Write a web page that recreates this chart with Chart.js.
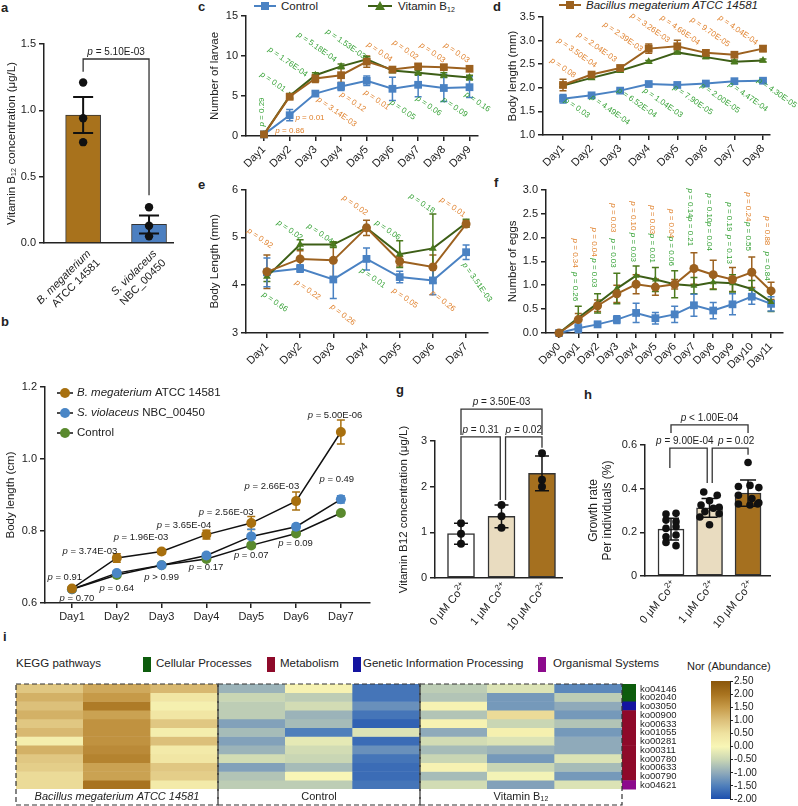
<!DOCTYPE html>
<html>
<head>
<meta charset="utf-8">
<title>Vitamin B12 figure</title>
<script src="https://cdn.jsdelivr.net/npm/chart.js@4.4.1/dist/chart.umd.min.js"></script>
<style>
  body { margin: 0; background: #fff; }
  #fig { position: relative; width: 798px; height: 806px; overflow: hidden; background: #fff;
         font-family: "Liberation Sans", Arial, sans-serif; color: #222; }
  #fig canvas { position: absolute; }
  .tag { position: absolute; font-weight: bold; font-size: 13px; line-height: 15px; }
  .txt { position: absolute; font-size: 11.5px; line-height: 13px; white-space: nowrap; }
  .txt sub { font-size: 7px; vertical-align: -2px; line-height: 0; }
  .key { position: absolute; }
  .box { position: absolute; width: 8px; height: 15px; }
</style>
</head>
<body>
<div id="fig">
  <div class="tag" style="left:1px;top:0px">a</div>
  <div class="tag" style="left:1px;top:314px">b</div>
  <div class="tag" style="left:198px;top:-1px">c</div>
  <div class="tag" style="left:493px;top:-1px">d</div>
  <div class="tag" style="left:198px;top:177px">e</div>
  <div class="tag" style="left:494px;top:175px">f</div>
  <div class="tag" style="left:396px;top:382px">g</div>
  <div class="tag" style="left:584px;top:387px">h</div>
  <div class="tag" style="left:3px;top:629px">i</div>

  <!-- legend shared by c-f -->
  <svg class="key" style="left:254px;top:0px" width="22" height="12"><line x1="0" y1="6" x2="22" y2="6" stroke="#4a82c3" stroke-width="2"/><rect x="7" y="2" width="8" height="8" fill="#4a82c3"/></svg>
  <div class="txt" style="left:281px;top:0px">Control</div>
  <svg class="key" style="left:368px;top:0px" width="24" height="12"><line x1="0" y1="6" x2="24" y2="6" stroke="#3d5e16" stroke-width="2"/><polygon points="12,1 17,10 7,10" fill="#4b7a1e"/></svg>
  <div class="txt" style="left:398px;top:0px">Vitamin B<sub>12</sub></div>
  <svg class="key" style="left:559px;top:-1px" width="22" height="12"><line x1="0" y1="6" x2="22" y2="6" stroke="#9c611f" stroke-width="2"/><rect x="7" y="2" width="8" height="8" fill="#9c611f"/></svg>
  <div class="txt" style="left:586px;top:-1px;font-style:italic">Bacillus megaterium ATCC 14581</div>

  <!-- KEGG legend row -->
  <div class="txt" style="left:16px;top:657px">KEGG pathways</div>
  <div class="box" style="left:143px;top:657px;background:#0d5c0d"></div>
  <div class="txt" style="left:156px;top:657px">Cellular Processes</div>
  <div class="box" style="left:267px;top:657px;background:#8e0a2a"></div>
  <div class="txt" style="left:280px;top:657px">Metabolism</div>
  <div class="box" style="left:353px;top:657px;background:#1414a0"></div>
  <div class="txt" style="left:363px;top:657px">Genetic Information Processing</div>
  <div class="box" style="left:538px;top:657px;background:#8c0a8c"></div>
  <div class="txt" style="left:553px;top:657px">Organismal Systems</div>
  <div class="txt" style="left:687px;top:660px;font-size:11px">Nor (Abundance)</div>

  <canvas id="ca" width="178" height="310" style="left:0;top:0"></canvas>
  <canvas id="cb" width="375" height="260" style="left:0;top:370px"></canvas>
  <canvas id="cc" width="290" height="178" style="left:208px;top:0"></canvas>
  <canvas id="cd" width="292" height="178" style="left:506px;top:0"></canvas>
  <canvas id="ce" width="290" height="198" style="left:208px;top:180px"></canvas>
  <canvas id="cf" width="292" height="198" style="left:506px;top:180px"></canvas>
  <canvas id="cg" width="170" height="245" style="left:397px;top:395px"></canvas>
  <canvas id="ch" width="212" height="245" style="left:586px;top:395px"></canvas>
  <canvas id="ci" width="680" height="130" style="left:10px;top:676px"></canvas>
  <canvas id="ccb" width="108" height="132" style="left:690px;top:674px"></canvas>
</div>
<script>
// ---------- data ----------
// a: vitamin B12 produced by the two strains
const aStrains = [['B. megaterium', 'ATCC 14581'], ['S. violaceus', 'NBC_00450']];
const aMean = [0.965, 0.14];
const aSem = [0.135, 0.068];
const aPts = [[1.21, 0.94, 0.76], [0.27, 0.13, 0.05]];

// b: body length (cm)
const bDays = [1, 2, 3, 4, 5, 6, 7];
const bBacillus = [0.640, 0.725, 0.743, 0.790, 0.822, 0.883, 1.075];
const bBacillusErr = [0.005, 0.012, 0.006, 0.012, 0.018, 0.025, 0.033];
const bViolaceus = [0.638, 0.683, 0.705, 0.732, 0.785, 0.812, 0.888];
const bViolaceusErr = [0.005, 0.006, 0.005, 0.006, 0.020, 0.006, 0.010];
const bControl = [0.638, 0.678, 0.705, 0.722, 0.760, 0.793, 0.850];
const bControlErr = [0.004, 0.005, 0.004, 0.005, 0.006, 0.005, 0.006];
const bNames = [['B. megaterium', ' ATCC 14581'], ['S. violaceus', ' NBC_00450'], ['', 'Control']];

// c: number of larvae
const cDays = [1, 2, 3, 4, 5, 6, 7, 8, 9];
const cControl = [0.2, 2.6, 5.3, 6.2, 6.9, 5.9, 6.4, 6.0, 6.1];
const cControlErr = [0.1, 0.7, 0.3, 0.5, 0.6, 1.45, 1.5, 1.7, 1.3];
const cVitB12 = [0.2, 5.0, 7.6, 8.7, 9.6, 8.2, 7.9, 7.6, 7.3];
const cVitB12Err = [0.1, 0.3, 0.3, 0.3, 0.3, 0.3, 0.3, 0.3, 0.3];
const cBacillus = [0.2, 4.9, 7.2, 7.6, 9.3, 8.3, 8.7, 8.6, 8.4];
const cBacillusErr = [0.1, 0.3, 0.5, 0.9, 0.7, 0.3, 0.3, 0.3, 0.3];

// d: body length (mm)
const dDays = [1, 2, 3, 4, 5, 6, 7, 8];
const dControl = [1.77, 1.84, 1.94, 2.08, 2.06, 2.09, 2.14, 2.15];
const dControlErr = [0.09, 0.03, 0.03, 0.04, 0.03, 0.03, 0.03, 0.03];
const dVitB12 = [2.05, 2.21, 2.36, 2.55, 2.75, 2.65, 2.55, 2.58];
const dVitB12Err = [0.03, 0.03, 0.03, 0.03, 0.03, 0.03, 0.04, 0.03];
const dBacillus = [2.06, 2.28, 2.42, 2.83, 2.88, 2.74, 2.70, 2.83];
const dBacillusErr = [0.12, 0.05, 0.04, 0.10, 0.13, 0.06, 0.05, 0.06];

// e: body length (mm)
const eDays = [1, 2, 3, 4, 5, 6, 7];
const eControl = [4.27, 4.35, 4.12, 4.55, 4.17, 4.10, 4.69];
const eControlErr = [0.30, 0.08, 0.40, 0.23, 0.12, 0.30, 0.15];
const eVitB12 = [4.18, 4.85, 4.85, 5.20, 4.65, 4.77, 5.30];
const eVitB12Err = [0.10, 0.10, 0.06, 0.05, 0.28, 0.72, 0.08];
const eBacillus = [4.28, 4.55, 4.52, 5.20, 4.50, 4.38, 5.28];
const eBacillusErr = [0.35, 0.17, 0.37, 0.16, 0.10, 0.25, 0.07];

// f: number of eggs
const fDays = [0, 1, 2, 3, 4, 5, 6, 7, 8, 9, 10, 11];
const fControl = [0, 0.10, 0.18, 0.28, 0.42, 0.31, 0.39, 0.58, 0.47, 0.60, 0.76, 0.61];
const fControlErr = [0, 0.09, 0.06, 0.08, 0.20, 0.12, 0.17, 0.23, 0.17, 0.22, 0.16, 0.15];
const fVitB12 = [0, 0.32, 0.62, 0.93, 1.20, 1.12, 1.02, 0.99, 1.06, 1.04, 0.92, 0.65];
const fVitB12Err = [0, 0.24, 0.20, 0.32, 0.20, 0.25, 0.28, 0.17, 0.15, 0.18, 0.18, 0.20];
const fBacillus = [0, 0.28, 0.57, 0.82, 1.02, 0.96, 1.02, 1.35, 1.22, 1.12, 1.27, 0.88];
const fBacillusErr = [0, 0.13, 0.12, 0.18, 0.20, 0.17, 0.10, 0.33, 0.30, 0.25, 0.32, 0.18];

// g: B12 vs cobalt
const gDoses = ['0 μM Co2+', '1 μM Co2+', '10 μM Co2+'];
const gMean = [0.97, 1.35, 2.29];
const gSd = [0.23, 0.25, 0.38];
const gPts = [[1.2, 0.97, 0.75], [1.6, 1.35, 1.1], [2.73, 2.15, 2.0]];

// h: growth rate vs cobalt
const hMean = [0.215, 0.312, 0.38];
const hSd = [0.05, 0.043, 0.06];
const hPts = [
  [0.284, 0.287, 0.256, 0.249, 0.218, 0.226, 0.180, 0.188, 0.154, 0.139],
  [0.385, 0.370, 0.345, 0.325, 0.315, 0.310, 0.295, 0.285, 0.270, 0.235],
  [0.520, 0.410, 0.415, 0.405, 0.370, 0.355, 0.335, 0.330, 0.325, 0.330]
];
const hJitter = [
  [-0.13, 0.13, -0.13, 0.13, -0.13, 0.13, -0.13, 0.13, -0.13, 0.13],
  [-0.15, 0.2, 0.0, -0.22, 0.25, 0.1, -0.12, 0.25, -0.25, 0.0],
  [0.0, -0.25, 0.05, 0.28, -0.25, 0.1, 0.28, -0.25, 0.05, 0.25]
];

// i: KEGG heatmap
const heatCols = ['BM1', 'BM2', 'BM3', 'C1', 'C2', 'C3', 'VB1', 'VB2', 'VB3'];
const heatGroups = ['Bacillus megaterium ATCC 14581', 'Control', 'Vitamin B₁₂'];
const heatRows = ['ko04146', 'ko02040', 'ko03050', 'ko00900', 'ko00633', 'ko01055',
                  'ko00281', 'ko00311', 'ko00780', 'ko00633', 'ko00790', 'ko04621'];
const heatRowCat = ['Cellular Processes', 'Cellular Processes', 'Genetic Information Processing',
  'Metabolism', 'Metabolism', 'Metabolism', 'Metabolism', 'Metabolism', 'Metabolism',
  'Metabolism', 'Metabolism', 'Organismal Systems'];
const heatVals = [
  [0.9, 1.3, 1.1, -0.9, 0.1, -1.6, -0.6, -0.3, -1.4],
  [1.2, 1.5, 0.4, -0.5, -0.6, -1.6, -0.7, -1.2, -0.6],
  [1.0, 1.9, 0.15, -0.6, -0.4, -1.3, 0.1, -1.2, -1.0],
  [1.2, 1.4, 0.4, -0.6, -0.9, -1.6, -0.7, 0.6, -1.2],
  [0.9, 1.6, 0.9, -1.1, -0.8, -1.8, 0.1, -0.5, -0.7],
  [1.1, 1.6, 0.2, -0.8, -1.5, -0.3, -1.0, 0.15, -1.2],
  [0.2, 1.6, 1.0, -1.1, -0.2, -1.7, -0.4, -0.3, -1.0],
  [1.2, 1.7, 0.3, -0.9, -0.4, -1.3, -0.8, -0.9, -1.0],
  [0.9, 1.8, 0.4, -0.4, -0.5, -1.6, -0.5, -1.2, -0.3],
  [0.8, 1.4, 0.9, -1.1, -0.8, -1.7, 0.1, -0.5, -0.8],
  [0.6, 1.4, 0.8, -0.7, 0.0, -1.7, -0.8, -0.05, -1.2],
  [0.6, 2.0, 0.3, -0.6, -0.6, -1.6, -0.4, -1.1, -0.3]
];
const cbRange = [-2, 2.5];

// ---------- styling ----------
const FF = '"Liberation Sans", Arial, sans-serif';
const INK = '#222';
const BLUE = '#4a82c3', GREEN = '#3d5e16', GREENPT = '#4b7a1e', BROWN = '#9c611f';
const PO = '#e0822e', PG = '#34a134';
const catColor = {
  'Cellular Processes': '#0d5c0d', 'Metabolism': '#8e0a2a',
  'Genetic Information Processing': '#1414a0', 'Organismal Systems': '#8c0a8c'
};
const cmapStops = [[-2, '#1d4fae'], [-1.5, '#4f7fbb'], [-1, '#8faaba'], [-0.5, '#c9d6b4'],
  [0, '#f8f6b6'], [0.5, '#efe2a0'], [1, '#dcc07a'], [1.5, '#c69a48'], [2, '#a8731f'], [2.5, '#8a560a']];

Chart.defaults.font.family = FF;
Chart.defaults.font.size = 11;
Chart.defaults.color = INK;
Chart.defaults.animation = false;
Chart.defaults.responsive = false;
Chart.defaults.plugins.legend.display = false;
Chart.defaults.plugins.tooltip.enabled = false;

// p-value annotations: [x, y, text, colour, rotation]
const cNotes = [
  [0.92, 3.0, 'p = 0.29', PG, -90], [1.35, 6.75, 'p = 0.01', PG, 35],
  [1.93, 9.25, 'p = 1.76E-04', PG, 35], [3.06, 11.1, 'p = 5.18E-04', PG, 35],
  [4.18, 11.5, 'p = 1.53E-03', PG, 35], [5.5, 10.5, 'p = 0.04', PO, 35],
  [6.51, 10.75, 'p = 0.02', PO, 35], [7.56, 10.4, 'p = 0.03', PO, 35],
  [8.5, 10.4, 'p = 0.03', PO, 35], [2.01, 0.6, 'p = 0.86', PO, 0],
  [2.79, 2.25, 'p = 0.01', PO, 0], [3.83, 3.0, 'p = 3.14E-03', PO, 35],
  [4.46, 4.25, 'p = 0.12', PO, 35], [5.39, 4.5, 'p = 0.01', PO, 35],
  [6.4, 3.25, 'p = 0.05', PG, 35], [7.41, 3.75, 'p = 0.06', PG, 35],
  [8.42, 3.6, 'p = 0.09', PG, 35], [9.31, 4.25, 'p = 0.16', PG, 35]
];
const dNotes = [
  [1.0, 2.42, 'p = 0.08', PO, 35], [1.49, 2.74, 'p = 3.50E-04', PO, 35],
  [2.19, 2.86, 'p = 2.04E-03', PO, 35], [3.1, 3.08, 'p = 2.39E-03', PO, 35],
  [4.05, 3.27, 'p = 3.26E-03', PO, 35], [5.1, 3.22, 'p = 4.66E-04', PO, 35],
  [6.15, 3.18, 'p = 9.70E-05', PO, 35], [7.13, 3.22, 'p = 4.04E-04', PO, 35],
  [1.49, 1.57, 'p = 0.03', PG, 35], [2.65, 1.53, 'p = 4.49E-04', PG, 35],
  [3.59, 1.68, 'p = 6.52E-04', PG, 35], [4.5, 1.68, 'p = 1.04E-03', PG, 35],
  [5.55, 1.74, 'p = 7.90E-05', PG, 35], [6.5, 1.78, 'p = 2.00E-05', PG, 35],
  [7.48, 1.81, 'p = 4.47E-04', PG, 35], [8.49, 1.89, 'p = 4.30E-05', PG, 35]
];
const eNotes = [
  [0.79, 4.98, 'p = 0.92', PO, 35], [1.69, 5.15, 'p = 0.02', PG, 35],
  [2.6, 5.08, 'p = 0.04', PG, 35], [3.65, 5.67, 'p = 0.02', PO, 35],
  [4.64, 5.15, 'p = 0.06', PG, 35], [5.67, 5.71, 'p = 0.18', PG, 35],
  [6.6, 5.63, 'p = 0.01', PO, 35], [1.24, 3.65, 'p = 0.66', PG, 35],
  [2.23, 3.9, 'p = 0.22', PO, 35], [3.29, 3.38, 'p = 0.26', PO, 38],
  [4.19, 4.15, 'p = 0.01', PG, 35], [5.16, 3.73, 'p = 0.05', PO, 35],
  [6.3, 3.67, 'p = 0.26', PO, 38], [7.33, 4.06, 'p = 3.51E-03', PG, 55]
];
const fNotes = [
  [0.83, 1.67, 'p = 0.34', PO, 90], [0.83, 0.97, 'p = 0.26', PG, 90],
  [1.82, 1.90, 'p = 0.04', PO, 90], [1.82, 1.26, 'p = 0.03', PG, 90],
  [2.8, 2.41, 'p = 0.03', PO, 90], [2.8, 1.67, 'p = 0.03', PG, 90],
  [3.84, 2.45, 'p = 0.10', PO, 90], [3.84, 1.79, 'p = 0.03', PG, 90],
  [4.83, 2.37, 'p = 0.03', PO, 90], [4.83, 1.77, 'p = 0.01', PG, 90],
  [5.81, 2.29, 'p = 0.04', PO, 90], [5.81, 1.71, 'p = 0.06', PG, 90],
  [6.8, 2.72, 'p = 0.14', PG, 90], [6.8, 2.12, 'p = 0.21', PG, 90],
  [7.78, 2.62, 'p = 0.10', PG, 90], [7.78, 2.02, 'p = 0.04', PG, 90],
  [8.82, 2.43, 'p = 0.19', PG, 90], [8.82, 1.75, 'p = 0.13', PG, 90],
  [9.81, 2.64, 'p = 0.24', PO, 90], [9.81, 2.02, 'p = 0.55', PG, 90],
  [10.79, 2.14, 'p = 0.88', PO, 90], [10.79, 1.40, 'p = 0.84', PG, 90]
];
const bNotes = [
  [0.84, 0.672, 'p = 0.91'], [1.4, 0.744, 'p = 3.74E-03'], [2.54, 0.781, 'p = 1.96E-03'],
  [3.5, 0.817, 'p = 3.65E-04'], [4.44, 0.853, 'p = 2.56E-03'], [5.46, 0.925, 'p = 2.66E-03'],
  [6.87, 1.122, 'p = 5.00E-06'], [6.91, 0.944, 'p = 0.49'], [1.11, 0.614, 'p = 0.70'],
  [2.0, 0.642, 'p = 0.64'], [3.0, 0.672, 'p > 0.99'], [3.99, 0.70, 'p = 0.17'],
  [5.0, 0.733, 'p = 0.07'], [5.99, 0.767, 'p = 0.09']
];
// brackets: [x1, x2, yTop, yLeft, yRight, text, optional text centre x]
const aBrackets = [[0, 1, 1.387, 1.29, 0.36, 'p = 5.10E-03']];
const gBrackets = [[0, 0.97, 3.09, 1.29, 1.71, 'p = 0.31'], [1.1, 2, 3.09, 1.71, 2.85, 'p = 0.02'],
                   [0, 2, 3.70, 3.13, 3.13, 'p = 3.50E-03']];
const hBrackets = [[-0.03, 0.94, 0.586, 0.495, 0.426, 'p = 9.00E-04', 0.36],
                   [1.07, 2, 0.586, 0.426, 0.555, 'p = 0.02', 1.69],
                   [0, 2, 0.692, 0.655, 0.655, 'p < 1.00E-04']];

// ---------- helpers ----------
function drawP(ctx, x, y, text, color, rot, size) {
  ctx.save();
  ctx.translate(x, y);
  ctx.rotate((rot || 0) * Math.PI / 180);
  ctx.fillStyle = color;
  ctx.textBaseline = 'middle';
  ctx.textAlign = 'left';
  const fi = `italic ${size}px ${FF}`, fn = `${size}px ${FF}`;
  const head = text.slice(0, 1), rest = text.slice(1);
  ctx.font = fi; const w1 = ctx.measureText(head).width;
  ctx.font = fn; const w2 = ctx.measureText(rest).width;
  const x0 = -(w1 + w2) / 2;
  ctx.font = fi; ctx.fillText(head, x0, 0);
  ctx.font = fn; ctx.fillText(rest, x0 + w1, 0);
  ctx.restore();
}

function errPlugin(after, color) {
  const draw = chart => {
    const ctx = chart.ctx, ys = chart.scales.y;
    chart.data.datasets.forEach((ds, i) => {
      if (!ds.err) return;
      const meta = chart.getDatasetMeta(i);
      ctx.save();
      ctx.strokeStyle = color || ds.pointBackgroundColor || ds.borderColor;
      ctx.lineWidth = ds.errWidth || 1.5;
      meta.data.forEach((el, j) => {
        const e = ds.err[j];
        if (!e) return;
        const v = ds.data[j].y, c = ds.cap || 3.5;
        const y1 = ys.getPixelForValue(v + e), y2 = ys.getPixelForValue(v - e);
        ctx.beginPath();
        ctx.moveTo(el.x, y1); ctx.lineTo(el.x, y2);
        ctx.moveTo(el.x - c, y1); ctx.lineTo(el.x + c, y1);
        ctx.moveTo(el.x - c, y2); ctx.lineTo(el.x + c, y2);
        ctx.stroke();
      });
      ctx.restore();
    });
  };
  return after ? { id: 'errA', afterDatasetsDraw: draw } : { id: 'errB', beforeDatasetsDraw: draw };
}

function notesPlugin(items, size, color) {
  return {
    id: 'notes',
    afterDatasetsDraw(chart) {
      const xs = chart.scales.x, ys = chart.scales.y;
      items.forEach(n => drawP(chart.ctx, xs.getPixelForValue(n[0]), ys.getPixelForValue(n[1]),
        n[2], n[3] || color, n[4] || 0, size));
    }
  };
}

function bracketPlugin(items, size) {
  return {
    id: 'brackets',
    afterDatasetsDraw(chart) {
      const ctx = chart.ctx, xs = chart.scales.x, ys = chart.scales.y;
      items.forEach(([x1, x2, yt, yl, yr, t, tx]) => {
        const px1 = xs.getPixelForValue(x1), px2 = xs.getPixelForValue(x2), py = ys.getPixelForValue(yt);
        ctx.save();
        ctx.strokeStyle = '#333'; ctx.lineWidth = 1.3;
        ctx.beginPath();
        ctx.moveTo(px1, ys.getPixelForValue(yl)); ctx.lineTo(px1, py);
        ctx.lineTo(px2, py); ctx.lineTo(px2, ys.getPixelForValue(yr));
        ctx.stroke();
        ctx.restore();
        const cx = tx === undefined ? (px1 + px2) / 2 : xs.getPixelForValue(tx);
        drawP(ctx, cx, py - 7, t, INK, 0, size);
      });
    }
  };
}

function yAx(min, max, step, w, title, fmt, titleSize) {
  return {
    type: 'linear', min, max,
    ticks: { stepSize: step, padding: 3, color: INK, font: { size: 11 }, callback: fmt || (v => v) },
    grid: { drawOnChartArea: false, drawTicks: true, tickLength: 5, color: INK, lineWidth: 1.5 },
    border: { display: true, color: INK, width: 1.5 },
    title: { display: !!title, text: title, padding: 0, color: INK, font: { size: titleSize || 11.5 } },
    afterFit: s => { s.width = w; }
  };
}

function xDays(min, max, days, h, rot) {
  return {
    type: 'linear', min, max,
    afterBuildTicks: s => { s.ticks = days.map(d => ({ value: d })); },
    ticks: { autoSkip: false, maxRotation: rot, minRotation: rot, padding: 2, color: INK,
             font: { size: 11 }, callback: v => 'Day' + v },
    grid: { drawOnChartArea: false, drawTicks: true, tickLength: 5, color: INK, lineWidth: 1.5 },
    border: { display: true, color: INK, width: 1.5 },
    afterFit: s => { s.height = h; }
  };
}

function xPlain(min, max, h) {
  return {
    type: 'linear', min, max, offset: false,
    ticks: { display: false }, grid: { display: false },
    border: { display: true, color: INK, width: 1.5 },
    afterFit: s => { s.height = h; }
  };
}

function series(days, vals, err, color, style, r, ptColor) {
  return {
    data: days.map((d, i) => ({ x: d, y: vals[i] })),
    err, borderColor: color, borderWidth: 2, tension: 0, clip: false,
    pointStyle: style, pointRadius: r, pointBorderWidth: 0,
    pointBackgroundColor: ptColor || color, pointBorderColor: ptColor || color
  };
}

function dots(groups, jitter) {
  const out = [];
  groups.forEach((g, i) => g.forEach((v, k) => out.push({ x: i + (jitter ? jitter[i][k] : 0), y: v })));
  return out;
}

// ---------- a ----------
new Chart(document.getElementById('ca'), {
  type: 'bar',
  data: { datasets: [
    { type: 'scatter', order: 0, data: dots(aPts), pointRadius: 4.2, backgroundColor: '#111', borderWidth: 0 },
    { type: 'bar', order: 1, data: aMean.map((m, i) => ({ x: i, y: m })),
      backgroundColor: ['#a8721c', '#4c7fc0'], borderColor: '#333', borderWidth: 1,
      barThickness: 35, err: aSem, cap: 10, errWidth: 2 }
  ] },
  options: {
    layout: { padding: { left: 5, top: 44, right: 4, bottom: 0 } },
    scales: { x: xPlain(-0.594, 1.376, 67),
              y: yAx(0, 1.5, 0.5, 39, 'Vitamin B₁₂ concentration (μg/L)', v => v.toFixed(1)) }
  },
  plugins: [errPlugin(true, '#111'), bracketPlugin(aBrackets, 10), {
    id: 'alab',
    afterDraw(chart) {
      const ctx = chart.ctx, xs = chart.scales.x, base = chart.chartArea.bottom;
      aStrains.forEach((lines, i) => {
        ctx.save();
        ctx.translate(xs.getPixelForValue(i) + 6, base + 9);
        ctx.rotate(-Math.PI / 4);
        ctx.textAlign = 'right'; ctx.textBaseline = 'middle'; ctx.fillStyle = INK;
        ctx.font = `italic 11px ${FF}`; ctx.fillText(lines[0], 0, 0);
        ctx.font = `11px ${FF}`; ctx.fillText(lines[1], 0, 13);
        ctx.restore();
      });
    }
  }]
});

// ---------- b ----------
const bColors = ['#a8700f', '#4a86c6', '#5a8a2e'];
const bSets = [[bBacillus, bBacillusErr], [bViolaceus, bViolaceusErr], [bControl, bControlErr]];
new Chart(document.getElementById('cb'), {
  type: 'line',
  data: { datasets: bSets.map(([v, e], k) => {
    const s = series(bDays, v, e, '#111', 'circle', 5, bColors[k]);
    s.borderWidth = 1.5; s.cap = 4;
    return s;
  }) },
  options: {
    layout: { padding: { left: 4, top: 17, right: 5, bottom: 0 } },
    scales: { x: xDays(0.398, 7.65, bDays, 27, 0),
              y: yAx(0.6, 1.2, 0.2, 41, 'Body length (cm)', v => v.toFixed(1)) }
  },
  plugins: [errPlugin(false), notesPlugin(bNotes, 9.5, INK), {
    id: 'blegend',
    afterDraw(chart) {
      const ctx = chart.ctx, L = chart.chartArea.left, T = chart.chartArea.top;
      bNames.forEach((nm, k) => {
        const y = T + 6 + k * 20;
        ctx.save();
        ctx.strokeStyle = '#111'; ctx.lineWidth = 1.5;
        ctx.beginPath(); ctx.moveTo(L + 12, y); ctx.lineTo(L + 28, y); ctx.stroke();
        ctx.fillStyle = bColors[k];
        ctx.beginPath(); ctx.arc(L + 20, y, 5, 0, Math.PI * 2); ctx.fill();
        ctx.fillStyle = INK; ctx.textBaseline = 'middle'; ctx.textAlign = 'left';
        ctx.font = `italic 11.5px ${FF}`; ctx.fillText(nm[0], L + 32, y);
        const w = ctx.measureText(nm[0]).width;
        ctx.font = `11.5px ${FF}`; ctx.fillText(nm[1], L + 32 + w, y);
        ctx.restore();
      });
    }
  }]
});

// ---------- c ----------
new Chart(document.getElementById('cc'), {
  type: 'line',
  data: { datasets: [
    series(cDays, cBacillus, cBacillusErr, BROWN, 'rect', 5.5),
    series(cDays, cVitB12, cVitB12Err, GREEN, 'triangle', 4.5, GREENPT),
    series(cDays, cControl, cControlErr, BLUE, 'rect', 5.5)
  ] },
  options: {
    layout: { padding: { left: 0, top: 16, right: 20, bottom: 0 } },
    scales: { x: xDays(0.30, 9.33, cDays, 42, 45), y: yAx(0, 15, 5, 38, 'Number of larvae') }
  },
  plugins: [errPlugin(false), notesPlugin(cNotes, 8)]
});

// ---------- d ----------
new Chart(document.getElementById('cd'), {
  type: 'line',
  data: { datasets: [
    series(dDays, dBacillus, dBacillusErr, BROWN, 'rect', 5.5),
    series(dDays, dVitB12, dVitB12Err, GREEN, 'triangle', 4.5, GREENPT),
    series(dDays, dControl, dControlErr, BLUE, 'rect', 5.5)
  ] },
  options: {
    layout: { padding: { left: 0, top: 17, right: 28, bottom: 0 } },
    scales: { x: xDays(0.30, 8.245, dDays, 43, 45),
              y: yAx(1, 3.5, 0.5, 37, 'Body length (mm)', v => v.toFixed(1)) }
  },
  plugins: [errPlugin(false), notesPlugin(dNotes, 8)]
});

// ---------- e ----------
new Chart(document.getElementById('ce'), {
  type: 'line',
  data: { datasets: [
    series(eDays, eBacillus, eBacillusErr, BROWN, 'circle', 4.5),
    series(eDays, eVitB12, eVitB12Err, GREEN, 'triangle', 4.5, GREENPT),
    series(eDays, eControl, eControlErr, BLUE, 'rect', 5.5)
  ] },
  options: {
    layout: { padding: { left: 0, top: 9, right: 10, bottom: 0 } },
    scales: { x: xDays(0.37, 7.66, eDays, 45, 45), y: yAx(3, 6, 1, 38, 'Body Length (mm)') }
  },
  plugins: [errPlugin(false), notesPlugin(eNotes, 8)]
});

// ---------- f ----------
new Chart(document.getElementById('cf'), {
  type: 'line',
  data: { datasets: [
    series(fDays, fBacillus, fBacillusErr, BROWN, 'circle', 4.5),
    series(fDays, fVitB12, fVitB12Err, GREEN, 'triangle', 4, GREENPT),
    series(fDays, fControl, fControlErr, BLUE, 'rect', 5.5)
  ] },
  options: {
    layout: { padding: { left: 0, top: 8, right: 15, bottom: 0 } },
    scales: { x: xDays(-0.675, 11.62, fDays, 45, 45),
              y: yAx(0, 3, 0.5, 40, 'Number of eggs', v => v.toFixed(1)) }
  },
  plugins: [errPlugin(false), notesPlugin(fNotes, 8)]
});

// ---------- g & h ----------
function coLabels(cats) {
  return {
    id: 'colab',
    afterDraw(chart) {
      const ctx = chart.ctx, xs = chart.scales.x, base = chart.chartArea.bottom;
      cats.forEach((s, i) => {
        const main = s.slice(0, -2), sup = s.slice(-2);
        ctx.save();
        ctx.font = `11px ${FF}`; const w1 = ctx.measureText(main).width;
        ctx.font = `8px ${FF}`; const w2 = ctx.measureText(sup).width;
        ctx.translate(xs.getPixelForValue(i) + 4, base + 7);
        ctx.rotate(-50 * Math.PI / 180);
        ctx.fillStyle = INK; ctx.textAlign = 'left'; ctx.textBaseline = 'middle';
        ctx.font = `11px ${FF}`; ctx.fillText(main, -(w1 + w2), 0);
        ctx.font = `8px ${FF}`; ctx.fillText(sup, -w2, -4);
        ctx.restore();
      });
    }
  };
}
const doseFill = ['#ffffff', '#e9dcc0', '#a5701f'];

new Chart(document.getElementById('cg'), {
  type: 'bar',
  data: { datasets: [
    { type: 'scatter', order: 0, data: dots(gPts), pointRadius: 4, backgroundColor: '#111', borderWidth: 0 },
    { type: 'bar', order: 1, data: gMean.map((m, i) => ({ x: i, y: m })),
      backgroundColor: doseFill, borderColor: '#333', borderWidth: 1.5, borderSkipped: false,
      barThickness: 27, err: gSd, cap: 7, errWidth: 1.5 }
  ] },
  options: {
    layout: { padding: { left: 0, top: 46, right: 5, bottom: 0 } },
    scales: { x: xPlain(-0.642, 2.494, 62),
              y: yAx(0, 3, 1, 38, 'Vitamin B12 concentration (μg/L)') }
  },
  plugins: [errPlugin(true, '#111'), bracketPlugin(gBrackets, 10), coLabels(gDoses)]
});

new Chart(document.getElementById('ch'), {
  type: 'bar',
  data: { datasets: [
    { type: 'scatter', order: 0, data: dots(hPts, hJitter), pointRadius: 3.8, backgroundColor: '#111', borderWidth: 0 },
    { type: 'bar', order: 1, data: hMean.map((m, i) => ({ x: i, y: m })),
      backgroundColor: doseFill, borderColor: '#333', borderWidth: 1.5, borderSkipped: false,
      barThickness: 26, err: hSd, cap: 8, errWidth: 1.5 }
  ] },
  options: {
    layout: { padding: { left: 0, top: 50, right: 28, bottom: 0 } },
    scales: { x: xPlain(-0.675, 2.57, 64),
              y: yAx(0, 0.6, 0.2, 59, ['Growth rate', 'Per individuals (%)'],
                     v => (v === 0 ? '0' : v.toFixed(1)), 12) }
  },
  plugins: [errPlugin(true, '#111'), bracketPlugin(hBrackets, 10), coLabels(gDoses)]
});

// ---------- i: heatmap ----------
function hexRgb(h) { return [1, 3, 5].map(i => parseInt(h.slice(i, i + 2), 16)); }
function heatColor(v) {
  const s = cmapStops;
  if (v <= s[0][0]) return s[0][1];
  for (let k = 1; k < s.length; k++) {
    if (v <= s[k][0]) {
      const t = (v - s[k - 1][0]) / (s[k][0] - s[k - 1][0]);
      const a = hexRgb(s[k - 1][1]), b = hexRgb(s[k][1]);
      return 'rgb(' + a.map((c, j) => Math.round(c + (b[j] - c) * t)).join(',') + ')';
    }
  }
  return s[s.length - 1][1];
}

new Chart(document.getElementById('ci'), {
  type: 'bar',
  data: {
    labels: heatCols,
    datasets: heatRows.map((row, r) => ({
      label: row,
      data: heatCols.map(() => [r, r + 1]),
      backgroundColor: heatVals[r].map(heatColor),
      borderWidth: 0, grouped: false, barPercentage: 1, categoryPercentage: 1
    }))
  },
  options: {
    layout: { padding: { left: 6, top: 8, right: 68, bottom: 17 } },
    scales: { x: { display: false }, y: { display: false, min: 0, max: heatRows.length, reverse: true } }
  },
  plugins: [{
    id: 'heatDeco',
    afterDraw(chart) {
      const ctx = chart.ctx, a = chart.chartArea, ys = chart.scales.y;
      const cw = (a.right - a.left) / heatCols.length;
      ctx.save();
      // side strip + row labels
      heatRows.forEach((row, r) => {
        const y1 = ys.getPixelForValue(r), y2 = ys.getPixelForValue(r + 1);
        ctx.fillStyle = catColor[heatRowCat[r]];
        ctx.fillRect(a.right, y1, 14, y2 - y1 + 0.5);
        ctx.fillStyle = INK; ctx.font = `9.5px ${FF}`;
        ctx.textAlign = 'left'; ctx.textBaseline = 'middle';
        ctx.fillText(row, a.right + 18, (y1 + y2) / 2 + 0.5);
      });
      // dashed group boxes and captions
      heatGroups.forEach((g, k) => {
        const x1 = a.left + k * 3 * cw, x2 = x1 + 3 * cw;
        ctx.setLineDash([5, 3]); ctx.strokeStyle = '#333'; ctx.lineWidth = 1.2;
        ctx.strokeRect(x1, a.top, x2 - x1, a.bottom - a.top + 16);
        ctx.setLineDash([]);
        ctx.fillStyle = INK; ctx.textAlign = 'center'; ctx.textBaseline = 'middle';
        ctx.font = (k === 0 ? 'italic ' : '') + `11px ${FF}`;
        ctx.fillText(g, (x1 + x2) / 2, a.bottom + 8);
      });
      ctx.restore();
    }
  }]
});

// colour bar
new Chart(document.getElementById('ccb'), {
  type: 'bar',
  data: { labels: ['scale'], datasets: [{
    data: [cbRange],
    backgroundColor: c => {
      const ch = c.chart;
      if (!ch.chartArea) return '#ccc';
      const ys = ch.scales.y;
      const g = ch.ctx.createLinearGradient(0, ys.getPixelForValue(cbRange[0]), 0, ys.getPixelForValue(cbRange[1]));
      cmapStops.forEach(([v, col]) => g.addColorStop((v - cbRange[0]) / (cbRange[1] - cbRange[0]), col));
      return g;
    },
    borderWidth: 0, barPercentage: 1, categoryPercentage: 1
  }] },
  options: {
    layout: { padding: { left: 21, top: 7, right: 0, bottom: 7 } },
    scales: {
      x: { display: false },
      y: { position: 'right', min: cbRange[0], max: cbRange[1],
           ticks: { stepSize: 0.5, autoSkip: false, padding: 1, font: { size: 10 }, color: INK,
                    callback: v => v.toFixed(2) },
           grid: { drawOnChartArea: false, tickLength: 3, color: INK, lineWidth: 1 },
           border: { display: true, color: INK, width: 1 },
           afterFit: s => { s.width = 68; } }
    }
  }
});
</script>
</body>
</html>
